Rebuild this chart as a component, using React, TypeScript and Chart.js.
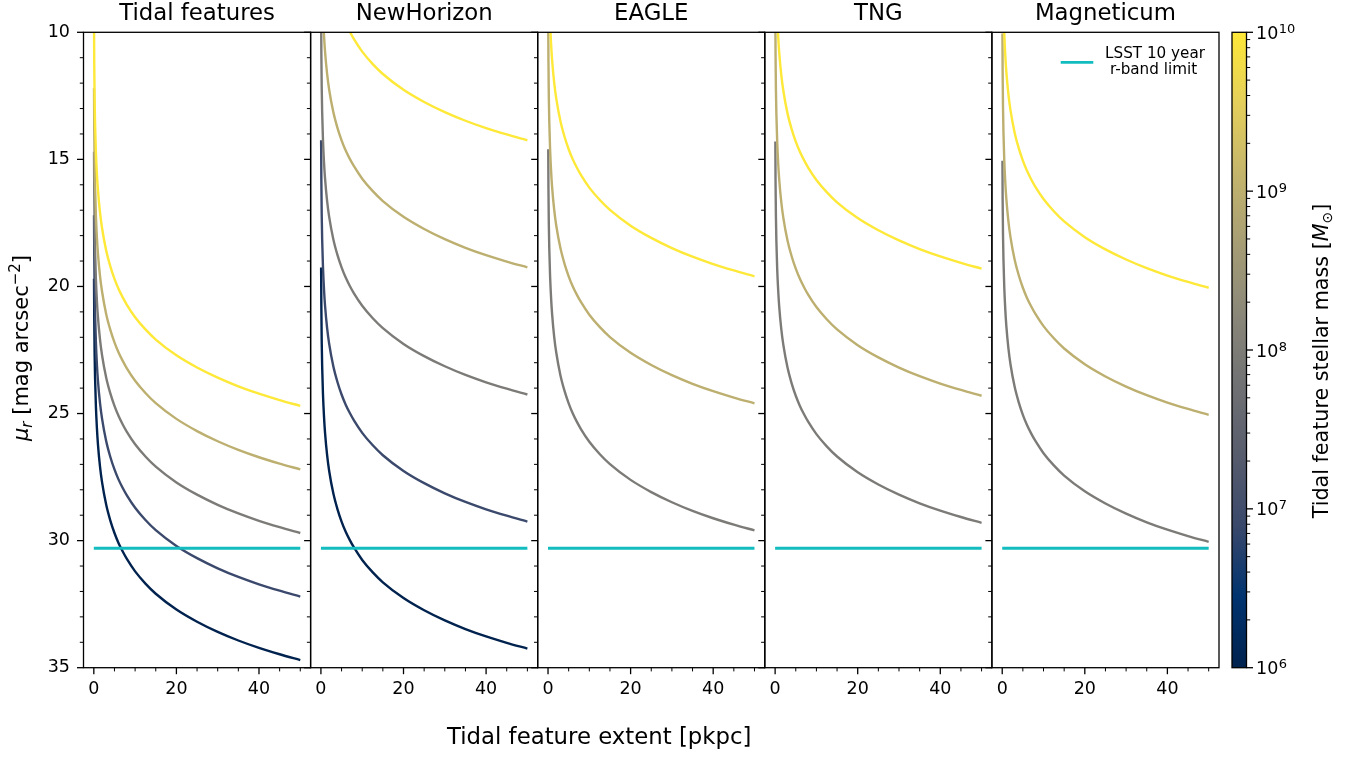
import React, { useEffect, useRef } from "react";
import { Chart, registerables } from "chart.js";

Chart.register(...registerables);

// ---------------- data ----------------
const extentKpc = [0.05, 0.1, 0.2, 0.3, 0.5, 0.75, 1, 1.5, 2, 3, 4, 5, 6, 7, 8, 10, 12.5, 15, 20, 25, 30, 35, 40, 45, 50];

const panelTitles = ["Tidal features", "NewHorizon", "EAGLE", "TNG", "Magneticum"];

// surface brightness [mag arcsec^-2] per stellar mass
const tidal_1e6 = [19.7, 21.21, 22.71, 23.59, 24.7, 25.58, 26.21, 27.09, 27.71, 28.59, 29.21, 29.7, 30.1, 30.43, 30.72, 31.21, 31.69, 32.09, 32.71, 33.19, 33.59, 33.93, 34.22, 34.47, 34.7];
const tidal_1e7 = [17.2, 18.71, 20.21, 21.09, 22.2, 23.08, 23.71, 24.59, 25.21, 26.09, 26.71, 27.2, 27.6, 27.93, 28.22, 28.71, 29.19, 29.59, 30.21, 30.69, 31.09, 31.43, 31.72, 31.97, 32.2];
const tidal_1e8 = [14.7, 16.21, 17.71, 18.59, 19.7, 20.58, 21.21, 22.09, 22.71, 23.59, 24.21, 24.7, 25.1, 25.43, 25.72, 26.21, 26.69, 27.09, 27.71, 28.19, 28.59, 28.93, 29.22, 29.47, 29.7];
const tidal_1e9 = [12.2, 13.71, 15.21, 16.09, 17.2, 18.08, 18.71, 19.59, 20.21, 21.09, 21.71, 22.2, 22.6, 22.93, 23.22, 23.71, 24.19, 24.59, 25.21, 25.69, 26.09, 26.43, 26.72, 26.97, 27.2];
const tidal_1e10 = [9.7, 11.21, 12.71, 13.59, 14.7, 15.58, 16.21, 17.09, 17.71, 18.59, 19.21, 19.7, 20.1, 20.43, 20.72, 21.21, 21.69, 22.09, 22.71, 23.19, 23.59, 23.93, 24.22, 24.47, 24.7];

const newHorizon_1e6 = [19.25, 20.76, 22.26, 23.14, 24.25, 25.13, 25.76, 26.64, 27.26, 28.14, 28.76, 29.25, 29.65, 29.98, 30.27, 30.76, 31.24, 31.64, 32.26, 32.74, 33.14, 33.48, 33.77, 34.02, 34.25];
const newHorizon_1e7 = [14.25, 15.76, 17.26, 18.14, 19.25, 20.13, 20.76, 21.64, 22.26, 23.14, 23.76, 24.25, 24.65, 24.98, 25.27, 25.76, 26.24, 26.64, 27.26, 27.74, 28.14, 28.48, 28.77, 29.02, 29.25];
const newHorizon_1e8 = [9.25, 10.76, 12.26, 13.14, 14.25, 15.13, 15.76, 16.64, 17.26, 18.14, 18.76, 19.25, 19.65, 19.98, 20.27, 20.76, 21.24, 21.64, 22.26, 22.74, 23.14, 23.48, 23.77, 24.02, 24.25];
const newHorizon_1e9 = [4.25, 5.76, 7.26, 8.14, 9.25, 10.13, 10.76, 11.64, 12.26, 13.14, 13.76, 14.25, 14.65, 14.98, 15.27, 15.76, 16.24, 16.64, 17.26, 17.74, 18.14, 18.48, 18.77, 19.02, 19.25];
const newHorizon_1e10 = [-0.75, 0.76, 2.26, 3.14, 4.25, 5.13, 5.76, 6.64, 7.26, 8.14, 8.76, 9.25, 9.65, 9.98, 10.27, 10.76, 11.24, 11.64, 12.26, 12.74, 13.14, 13.48, 13.77, 14.02, 14.25];

const eagle_1e8 = [14.6, 16.11, 17.61, 18.49, 19.6, 20.48, 21.11, 21.99, 22.61, 23.49, 24.11, 24.6, 25.0, 25.33, 25.62, 26.11, 26.59, 26.99, 27.61, 28.09, 28.49, 28.83, 29.12, 29.37, 29.6];
const eagle_1e9 = [9.6, 11.11, 12.61, 13.49, 14.6, 15.48, 16.11, 16.99, 17.61, 18.49, 19.11, 19.6, 20.0, 20.33, 20.62, 21.11, 21.59, 21.99, 22.61, 23.09, 23.49, 23.83, 24.12, 24.37, 24.6];
const eagle_1e10 = [4.6, 6.11, 7.61, 8.49, 9.6, 10.48, 11.11, 11.99, 12.61, 13.49, 14.11, 14.6, 15.0, 15.33, 15.62, 16.11, 16.59, 16.99, 17.61, 18.09, 18.49, 18.83, 19.12, 19.37, 19.6];

const tng_1e8 = [14.3, 15.81, 17.31, 18.19, 19.3, 20.18, 20.81, 21.69, 22.31, 23.19, 23.81, 24.3, 24.7, 25.03, 25.32, 25.81, 26.29, 26.69, 27.31, 27.79, 28.19, 28.53, 28.82, 29.07, 29.3];
const tng_1e9 = [9.3, 10.81, 12.31, 13.19, 14.3, 15.18, 15.81, 16.69, 17.31, 18.19, 18.81, 19.3, 19.7, 20.03, 20.32, 20.81, 21.29, 21.69, 22.31, 22.79, 23.19, 23.53, 23.82, 24.07, 24.3];
const tng_1e10 = [4.3, 5.81, 7.31, 8.19, 9.3, 10.18, 10.81, 11.69, 12.31, 13.19, 13.81, 14.3, 14.7, 15.03, 15.32, 15.81, 16.29, 16.69, 17.31, 17.79, 18.19, 18.53, 18.82, 19.07, 19.3];

const magneticum_1e8 = [15.05, 16.56, 18.06, 18.94, 20.05, 20.93, 21.56, 22.44, 23.06, 23.94, 24.56, 25.05, 25.45, 25.78, 26.07, 26.56, 27.04, 27.44, 28.06, 28.54, 28.94, 29.28, 29.57, 29.82, 30.05];
const magneticum_1e9 = [10.05, 11.56, 13.06, 13.94, 15.05, 15.93, 16.56, 17.44, 18.06, 18.94, 19.56, 20.05, 20.45, 20.78, 21.07, 21.56, 22.04, 22.44, 23.06, 23.54, 23.94, 24.28, 24.57, 24.82, 25.05];
const magneticum_1e10 = [5.05, 6.56, 8.06, 8.94, 10.05, 10.93, 11.56, 12.44, 13.06, 13.94, 14.56, 15.05, 15.45, 15.78, 16.07, 16.56, 17.04, 17.44, 18.06, 18.54, 18.94, 19.28, 19.57, 19.82, 20.05];

const lsstExtent = [0, 50];
const lsstLimit = [30.3, 30.3];

const xMajorTicks = [0, 20, 40];
const xMinorTicks = [5, 10, 15, 25, 30, 35, 45, 50];
const yMajorTicks = [10, 15, 20, 25, 30, 35];
const yMinorTicks = [11, 12, 13, 14, 16, 17, 18, 19, 21, 22, 23, 24, 26, 27, 28, 29, 31, 32, 33, 34];
const cbarMajorTicks = [1e6, 1e7, 1e8, 1e9, 1e10];
const cbarMajorExponents = ["6", "7", "8", "9", "10"];
const cbarMinorFactors = [2, 3, 4, 5, 6, 7, 8, 9];

// cividis colours for log10(M) = 6, 7, 8, 9, 10
const massColors: Record<string, string> = {
  "1e6": "#00224e",
  "1e7": "#3b496c",
  "1e8": "#7c7b78",
  "1e9": "#bcaf6f",
  "1e10": "#fee838",
};
const cividisStops = ["#00224e", "#00336f", "#39486b", "#575c6d", "#707173", "#8a8779", "#a69d75", "#c4b56c", "#e4cf5b", "#fee838"];
const LSST_COLOR = "#12bcbf";

const panelSeries = [
  [["1e6", tidal_1e6], ["1e7", tidal_1e7], ["1e8", tidal_1e8], ["1e9", tidal_1e9], ["1e10", tidal_1e10]],
  [["1e6", newHorizon_1e6], ["1e7", newHorizon_1e7], ["1e8", newHorizon_1e8], ["1e9", newHorizon_1e9], ["1e10", newHorizon_1e10]],
  [["1e8", eagle_1e8], ["1e9", eagle_1e9], ["1e10", eagle_1e10]],
  [["1e8", tng_1e8], ["1e9", tng_1e9], ["1e10", tng_1e10]],
  [["1e8", magneticum_1e8], ["1e9", magneticum_1e9], ["1e10", magneticum_1e10]],
] as [string, number[]][][];

// ---------------- layout ----------------
const W = 1354;
const H = 758;
const FONT = "'DejaVu Sans', sans-serif";
const PANEL_LEFTS = [83.5, 310.6, 537.7, 764.8, 991.9];
const PANEL_W = 227.1;
const TOP = 32.3;
const BOTTOM = 667.7;
const CB_LEFT = 1232;
const CB_RIGHT = 1246.5;
const TICK_FONT = 17.5;
const TITLE_FONT = 22.8;
const YLABEL_FONT = 21;
const CBLABEL_FONT = 20.7;
const CURVE_W = 2.4;

Chart.defaults.font.family = FONT;
Chart.defaults.color = "#000";

type Piece = { text: string; font: string; dy?: number };

function drawRich(ctx: CanvasRenderingContext2D, pieces: Piece[], cx: number, cy: number, rotate: boolean) {
  ctx.save();
  ctx.translate(cx, cy);
  if (rotate) ctx.rotate(-Math.PI / 2);
  let total = 0;
  for (const p of pieces) {
    ctx.font = p.font;
    total += ctx.measureText(p.text).width;
  }
  let x = -total / 2;
  ctx.textAlign = "left";
  ctx.textBaseline = "alphabetic";
  ctx.fillStyle = "#000";
  for (const p of pieces) {
    ctx.font = p.font;
    ctx.fillText(p.text, x, p.dy || 0);
    x += ctx.measureText(p.text).width;
  }
  ctx.restore();
}

function line(ctx: CanvasRenderingContext2D, x1: number, y1: number, x2: number, y2: number, w: number) {
  ctx.lineWidth = w;
  ctx.beginPath();
  ctx.moveTo(x1, y1);
  ctx.lineTo(x2, y2);
  ctx.stroke();
}

function panelDeco(i: number) {
  return {
    id: "panelDeco" + i,
    afterDraw(chart: any) {
      const { ctx, chartArea: a, scales } = chart;
      const xs = scales.x;
      const ys = scales.y;
      ctx.save();
      ctx.strokeStyle = "#000";
      ctx.lineCap = "butt";
      for (const v of xMajorTicks) {
        const px = xs.getPixelForValue(v);
        line(ctx, px, a.bottom, px, a.bottom + 6.5, 1.3);
      }
      for (const v of xMinorTicks) {
        const px = xs.getPixelForValue(v);
        line(ctx, px, a.bottom, px, a.bottom + 3.7, 1.0);
      }
      for (const v of yMajorTicks) {
        const py = ys.getPixelForValue(v);
        line(ctx, a.left, py, a.left - 6.5, py, 1.3);
      }
      for (const v of yMinorTicks) {
        const py = ys.getPixelForValue(v);
        line(ctx, a.left, py, a.left - 3.7, py, 1.0);
      }
      ctx.lineWidth = 1.3;
      ctx.strokeRect(a.left, a.top, a.right - a.left, a.bottom - a.top);

      ctx.fillStyle = "#000";
      ctx.font = `${TITLE_FONT}px ${FONT}`;
      ctx.textAlign = "center";
      ctx.textBaseline = "alphabetic";
      ctx.fillText(panelTitles[i], (a.left + a.right) / 2, 19.5);

      if (i === 4) {
        ctx.strokeStyle = LSST_COLOR;
        line(ctx, 1060.7, 62.3, 1093.3, 62.3, 2.8);
        ctx.font = `15.2px ${FONT}`;
        ctx.fillText("LSST 10 year", 1155, 57.5);
        ctx.fillText("r-band limit", 1153.5, 74.3);
      }
      ctx.restore();
    },
  };
}

function makePanel(canvas: HTMLCanvasElement, i: number) {
  const left = PANEL_LEFTS[i];
  const yw = i === 0 ? left : 12;
  const series = panelSeries[i];
  const datasets: any[] = [
    {
      label: "LSST 10 year r-band limit",
      data: lsstExtent.map((x, k) => ({ x, y: lsstLimit[k] })),
      borderColor: LSST_COLOR,
      borderWidth: 2.8,
      pointRadius: 0,
      order: 0,
    },
  ];
  series.forEach(([mass, vals], k) => {
    datasets.push({
      label: mass,
      data: extentKpc.map((x, j) => ({ x, y: vals[j] })),
      borderColor: massColors[mass],
      borderWidth: CURVE_W,
      pointRadius: 0,
      cubicInterpolationMode: "monotone",
      order: 20 - k,
    });
  });
  return new Chart(canvas, {
    type: "line",
    data: { datasets },
    options: {
      responsive: false,
      animation: false,
      events: [],
      layout: { padding: { left: left - yw, right: W - (left + PANEL_W), top: TOP, bottom: 0 } },
      plugins: { legend: { display: false }, tooltip: { enabled: false }, title: { display: false } },
      scales: {
        x: {
          type: "linear",
          min: -2.5,
          max: 52.5,
          grid: { display: false, drawTicks: false },
          border: { display: false },
          ticks: { color: "#000", font: { family: FONT, size: TICK_FONT }, padding: 11, autoSkip: false, maxRotation: 0 },
          afterBuildTicks: (s: any) => {
            s.ticks = xMajorTicks.map((v) => ({ value: v }));
          },
          afterFit: (s: any) => {
            s.height = H - BOTTOM;
          },
        },
        y: {
          type: "linear",
          min: 10,
          max: 35,
          reverse: true,
          grid: { display: false, drawTicks: false },
          border: { display: false },
          ticks: { display: i === 0, color: "#000", font: { family: FONT, size: TICK_FONT }, padding: 13.5, autoSkip: false },
          afterBuildTicks: (s: any) => {
            s.ticks = yMajorTicks.map((v) => ({ value: v }));
          },
          afterFit: (s: any) => {
            s.width = yw;
          },
        },
      },
    } as any,
    plugins: [panelDeco(i)],
  });
}

const cbarDeco = {
  id: "cbarDeco",
  afterDraw(chart: any) {
    const { ctx, chartArea: a, scales } = chart;
    const ys = scales.y;
    ctx.save();
    const g = ctx.createLinearGradient(0, a.bottom, 0, a.top);
    cividisStops.forEach((c, k) => g.addColorStop(k / (cividisStops.length - 1), c));
    ctx.fillStyle = g;
    ctx.fillRect(a.left, a.top, a.right - a.left, a.bottom - a.top);
    ctx.strokeStyle = "#000";
    ctx.lineWidth = 1.3;
    ctx.strokeRect(a.left, a.top, a.right - a.left, a.bottom - a.top);
    for (const v of cbarMajorTicks) {
      const py = ys.getPixelForValue(v);
      line(ctx, a.right, py, a.right + 6.5, py, 1.3);
    }
    for (let k = 0; k < cbarMajorTicks.length - 1; k++) {
      for (const f of cbarMinorFactors) {
        const py = ys.getPixelForValue(cbarMajorTicks[k] * f);
        line(ctx, a.right, py, a.right + 3.7, py, 1.0);
      }
    }
    // colorbar tick labels: 10^n
    ctx.fillStyle = "#000";
    ctx.textAlign = "left";
    ctx.textBaseline = "alphabetic";
    cbarMajorTicks.forEach((v, k) => {
      const py = ys.getPixelForValue(v);
      const x0 = a.right + 9.5;
      ctx.font = `${TICK_FONT}px ${FONT}`;
      ctx.fillText("10", x0, py + 6.5);
      const w10 = ctx.measureText("10").width;
      ctx.font = `13px ${FONT}`;
      ctx.fillText(cbarMajorExponents[k], x0 + w10 + 0.5, py + 0.5);
    });

    const big = `${TITLE_FONT}px ${FONT}`;
    const yBig = `${YLABEL_FONT}px ${FONT}`;
    const ySmall = `${Math.round(YLABEL_FONT * 0.7)}px ${FONT}`;
    const yBigIt = `italic ${YLABEL_FONT}px ${FONT}`;
    const ySmallIt = `italic ${Math.round(YLABEL_FONT * 0.7)}px ${FONT}`;
    const cBig = `${CBLABEL_FONT}px ${FONT}`;
    const cBigIt = `italic ${CBLABEL_FONT}px ${FONT}`;
    const cSmall = `${Math.round(CBLABEL_FONT * 0.7)}px ${FONT}`;

    // x label
    drawRich(ctx, [{ text: "Tidal feature extent [pkpc]", font: big }], 599.2, 744.3, false);
    // y label
    drawRich(
      ctx,
      [
        { text: "μ", font: yBigIt },
        { text: "r", font: ySmallIt, dy: 4 },
        { text: " [mag arcsec", font: yBig },
        { text: "−2", font: ySmall, dy: -8.5 },
        { text: "]", font: yBig },
      ],
      28.3,
      348,
      true
    );
    // colorbar label
    drawRich(
      ctx,
      [
        { text: "Tidal feature stellar mass [", font: cBig },
        { text: "M", font: cBigIt },
        { text: "⊙", font: cSmall, dy: 4 },
        { text: "]", font: cBig },
      ],
      1328,
      361,
      true
    );
    ctx.restore();
  },
};

function makeColorbar(canvas: HTMLCanvasElement) {
  const axisW = 60;
  return new Chart(canvas, {
    type: "line",
    data: { datasets: [] },
    options: {
      responsive: false,
      animation: false,
      events: [],
      layout: { padding: { left: CB_LEFT, right: W - CB_RIGHT - axisW, top: TOP, bottom: H - BOTTOM } },
      plugins: { legend: { display: false }, tooltip: { enabled: false }, title: { display: false } },
      scales: {
        x: { type: "linear", display: false, min: 0, max: 1 },
        y: {
          type: "logarithmic",
          position: "right",
          min: 1e6,
          max: 1e10,
          grid: { display: false, drawTicks: false },
          border: { display: false },
          ticks: { display: false },
          afterBuildTicks: (s: any) => {
            s.ticks = cbarMajorTicks.map((v) => ({ value: v }));
          },
          afterFit: (s: any) => {
            s.width = axisW;
          },
        },
      },
    } as any,
    plugins: [cbarDeco],
  });
}

function ChartCanvas({ make }: { make: (c: HTMLCanvasElement) => Chart }) {
  const ref = useRef<HTMLCanvasElement | null>(null);
  useEffect(() => {
    if (!ref.current) return;
    const chart = make(ref.current);
    return () => chart.destroy();
  }, []);
  return (
    <canvas
      ref={ref}
      width={W}
      height={H}
      style={{ position: "absolute", left: 0, top: 0, width: W, height: H }}
    />
  );
}

export default function App() {
  return (
    <div style={{ position: "absolute", left: 0, top: 0, width: W, height: H, background: "#fff" }}>
      {panelTitles.map((_, i) => (
        <ChartCanvas key={i} make={(c) => makePanel(c, i)} />
      ))}
      <ChartCanvas make={makeColorbar} />
    </div>
  );
}
